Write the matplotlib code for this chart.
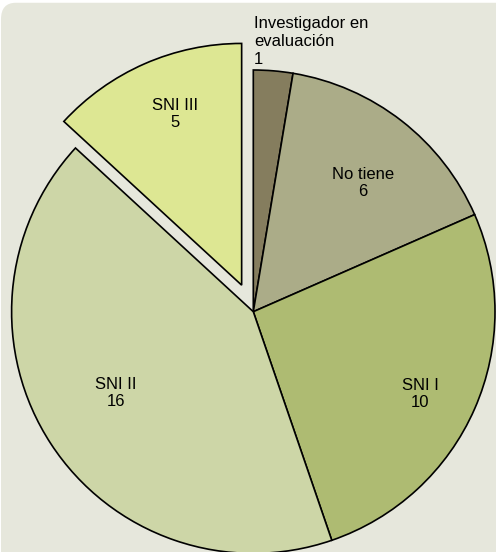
import numpy as np
import matplotlib.pyplot as plt
from matplotlib.patches import FancyBboxPatch

plt.rcParams['font.family'] = ['Liberation Sans', 'DejaVu Sans']

categorias = ['Investigador en\nevaluación', 'No tiene', 'SNI I', 'SNI II', 'SNI III']
valores = [1, 6, 10, 16, 5]
colores = ['#857d5e', '#abac88', '#aebb72', '#cdd6a7', '#dde793']
separacion = [0, 0, 0, 0, 0.12]
dist_etiqueta = [None, 0.70, 0.77, 0.66, 0.76]

fig = plt.figure(figsize=(4.96, 5.52), dpi=100)
fig.patch.set_facecolor('white')
# fondo con esquina redondeada arriba a la izquierda
fig.patches.append(FancyBboxPatch((0.002, -0.1), 1.2, 1.095, boxstyle='round,pad=0,rounding_size=0.03',
                                  transform=fig.transFigure, facecolor='#e6e7dc',
                                  edgecolor='none', zorder=-1))

ax = fig.add_axes([0, 0, 1, 1])
wedges, _ = ax.pie(valores, colors=colores, startangle=90, counterclock=False,
                   explode=separacion, radius=1,
                   wedgeprops=dict(edgecolor='black', linewidth=1.2))

# eje en pixeles escalados por el radio
cx, cy, r = 253.3, 311.7, 241.7
ax.set_aspect('auto')
ax.set_xlim(-cx / r, (496 - cx) / r)
ax.set_ylim(-(552 - cy) / r, cy / r)
ax.axis('off')

for i, w in enumerate(wedges):
    cx0, cy0 = w.center
    if dist_etiqueta[i] is None:
        ang = np.deg2rad(w.theta2)
        ax.text(cx0 + 1.0 * np.cos(ang) + 0.003, cy0 + 1.014 * np.sin(ang),
                f'{categorias[i]}\n{valores[i]}', ha='left', va='bottom',
                fontsize=12, linespacing=1.22)
        continue
    ang = np.deg2rad((w.theta1 + w.theta2) / 2 - 2.5)
    d = dist_etiqueta[i]
    ax.text(cx0 + d * np.cos(ang), cy0 + d * np.sin(ang),
            f'{categorias[i]}\n{valores[i]}', ha='center', va='center',
            fontsize=12, linespacing=1.22)

fig.savefig('out.png', dpi=100, facecolor=fig.get_facecolor())
